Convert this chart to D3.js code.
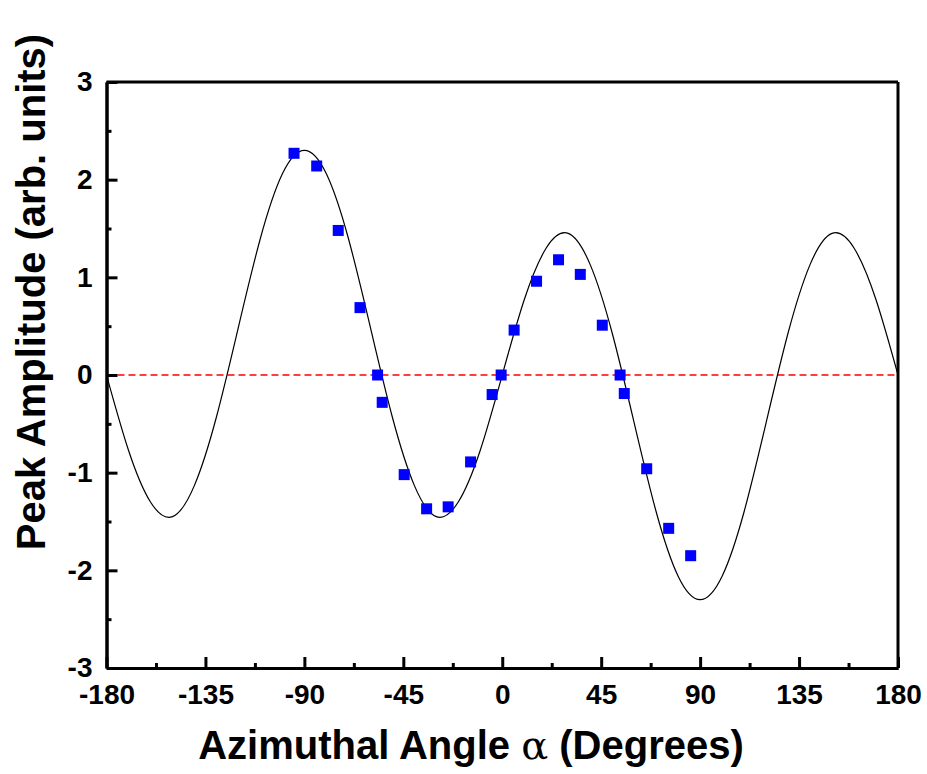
<!DOCTYPE html>
<html>
<head>
<meta charset="utf-8">
<script src="https://cdn.jsdelivr.net/npm/d3@7"></script>
<style>
  body { margin: 0; background: #fff; }
  #vis { width: 927px; height: 774px; }
  text { font-family: "Liberation Sans", Arial, sans-serif; font-weight: bold; fill: #000; }
</style>
</head>
<body>
<div id="vis"></div>
<script>
// measured points (blue squares)
var angles = [-94.7, -84.4, -74.6, -64.7, -56.7, -54.6, -44.6, -34.4, -24.6, -14.4, -4.6, -0.5,
              5.4, 15.6, 25.6, 35.5, 45.5, 53.6, 55.5, 65.7, 75.7, 85.7];
var amplitudes = [2.27, 2.14, 1.48, 0.69, 0, -0.28, -1.02, -1.37, -1.35, -0.89, -0.20, 0,
                  0.46, 0.96, 1.18, 1.03, 0.51, 0, -0.19, -0.96, -1.57, -1.85];

// fitted curve
var fitAngles = [-180, -170, -160, -150, -140, -130, -120, -110, -100, -90, -80, -70, -60, -50, -40, -30, -20, -10,
                 0, 10, 20, 30, 40, 50, 60, 70, 80, 90, 100, 110, 120, 130, 140, 150, 160, 170, 180];
var fitValues = [0, -0.77, -1.30, -1.45, -1.13, -0.43, 0.49, 1.40, 2.06, 2.30, 2.06, 1.40, 0.49, -0.43, -1.13, -1.45, -1.30, -0.77,
                 0, 0.77, 1.30, 1.45, 1.13, 0.43, -0.49, -1.40, -2.06, -2.30, -2.06, -1.40, -0.49, 0.43, 1.13, 1.45, 1.30, 0.77, 0];

var xTicks = [-180, -135, -90, -45, 0, 45, 90, 135, 180];
var xMinor = [-157.5, -112.5, -67.5, -22.5, 22.5, 67.5, 112.5, 157.5];
var yTicks = [-3, -2, -1, 0, 1, 2, 3];
var yMinor = [-2.5, -1.5, -0.5, 0.5, 1.5, 2.5];

var margin = { top: 82, left: 106.5, right: 29, bottom: 106 };
var width = 927 - margin.left - margin.right;
var height = 774 - margin.top - margin.bottom;

var svg = d3.select('#vis')
    .append('svg')
    .attr('width', 927)
    .attr('height', 774);

var g = svg.append('g')
    .attr('transform', 'translate(' + margin.left + ',' + margin.top + ')');

var x_scale = d3.scaleLinear().domain([-180, 180]).range([0, width]);
var y_scale = d3.scaleLinear().domain([-3, 3]).range([height, 0]);

// zero line
g.append('line')
    .attr('x1', x_scale(-180))
    .attr('x2', x_scale(180))
    .attr('y1', y_scale(0))
    .attr('y2', y_scale(0))
    .attr('stroke', '#ff0000')
    .attr('stroke-width', 1.5)
    .attr('stroke-dasharray', '7,4');

// fit curve
var fit = fitAngles.map(function(a, i) { return [a, fitValues[i]]; });
var line = d3.line()
    .x(function(d) { return x_scale(d[0]); })
    .y(function(d) { return y_scale(d[1]); })
    .curve(d3.curveNatural);

g.append('path')
    .datum(fit)
    .attr('d', line)
    .attr('fill', 'none')
    .attr('stroke', '#000')
    .attr('stroke-width', 1.2);

// points
var pts = angles.map(function(a, i) { return { a: a, v: amplitudes[i] }; });
var sq = 11;
g.selectAll('.pt')
    .data(pts)
    .enter()
    .append('rect')
    .attr('class', 'pt')
    .attr('x', function(d) { return x_scale(d.a) - sq / 2; })
    .attr('y', function(d) { return y_scale(d.v) - sq / 2; })
    .attr('width', sq)
    .attr('height', sq)
    .attr('fill', '#0000ff');

// frame top/right
g.append('line').attr('x1', 0).attr('x2', width).attr('y1', 0).attr('y2', 0)
    .attr('stroke', '#000').attr('stroke-width', 3);
g.append('line').attr('x1', width).attr('x2', width).attr('y1', 0).attr('y2', height)
    .attr('stroke', '#000').attr('stroke-width', 3);

// minor ticks
g.append('g')
    .attr('class', 'axis')
    .attr('transform', 'translate(0,' + height + ')')
    .call(d3.axisBottom(x_scale).tickValues(xMinor).tickSize(-5).tickSizeOuter(0).tickFormat(''));
g.append('g')
    .attr('class', 'axis')
    .call(d3.axisLeft(y_scale).tickValues(yMinor).tickSize(-5).tickSizeOuter(0).tickFormat(''));

// major axes
var fmt = function(d) { return String(d); };
var x_axis = d3.axisBottom(x_scale).tickValues(xTicks).tickSize(-11).tickSizeOuter(0).tickPadding(16).tickFormat(fmt);
var y_axis = d3.axisLeft(y_scale).tickValues(yTicks).tickSize(-11).tickSizeOuter(0).tickPadding(14).tickFormat(fmt);

g.append('g')
    .attr('class', 'axis')
    .attr('transform', 'translate(0,' + height + ')')
    .call(x_axis);
g.append('g')
    .attr('class', 'axis')
    .call(y_axis);

svg.selectAll('.axis path, .axis line')
    .attr('stroke', '#000')
    .attr('stroke-width', 3);
svg.selectAll('.axis text')
    .style('font-size', '28px')
    .style('font-weight', 'bold')
    .style('font-family', '"Liberation Sans", Arial, sans-serif');

// axis titles
var xt = svg.append('text')
    .attr('x', 471)
    .attr('y', 759)
    .style('text-anchor', 'middle')
    .style('font-size', '40px');
xt.append('tspan').text('Azimuthal Angle ');
xt.append('tspan').style('font-family', '"DejaVu Serif", "Liberation Serif", serif').style('font-weight', 'normal').text('\u03b1');
xt.append('tspan').text(' (Degrees)');

svg.append('text')
    .attr('transform', 'translate(45,292) rotate(-90)')
    .style('text-anchor', 'middle')
    .style('font-size', '40px')
    .text('Peak Amplitude (arb. units)');
</script>
</body>
</html>
